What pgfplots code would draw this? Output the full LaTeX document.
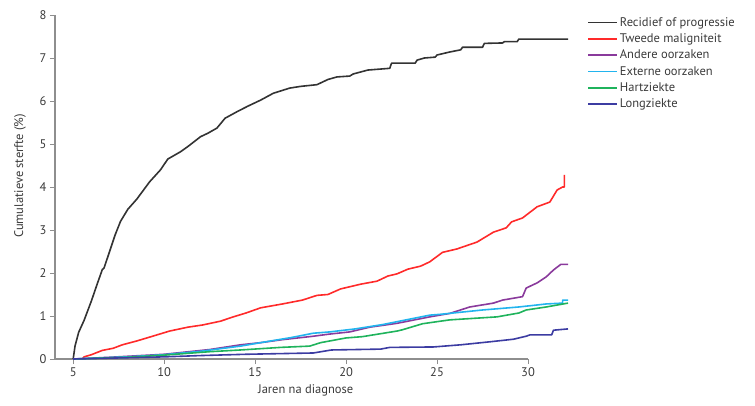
\documentclass[border=0pt]{standalone}
\usepackage{fontspec}
\setmainfont{PT Sans}
\usepackage{pgfplots}
\pgfplotsset{compat=1.18}

\definecolor{cBlack}{HTML}{333333}
\definecolor{cRed}{HTML}{FF2A2A}
\definecolor{cPurple}{HTML}{8A3A9C}
\definecolor{cCyan}{HTML}{22B4EE}
\definecolor{cGreen}{HTML}{1FB35C}
\definecolor{cNavy}{HTML}{3C3CA2}
\definecolor{cAxis}{HTML}{8E8E8E}
\definecolor{cText}{HTML}{3A3A3A}

\begin{document}
\begin{tikzpicture}
\path[use as bounding box] (-55pt,-46pt) rectangle (700pt,359pt);
\begin{axis}[
    scale only axis,
    width=473pt, height=344pt,
    xmin=4, xmax=30, ymin=0, ymax=8,
    clip=false,
    axis x line*=bottom, axis y line*=left,
    axis line style={cAxis, line width=1.2pt, -},
    xtick={5,10,15,20,25,30},
    ytick={0,1,2,3,4,5,6,7,8},
    tick align=outside,
    major tick length=5pt,
    tick style={cAxis, line width=1pt},
    every tick label/.append style={font=\fontsize{12.5}{14}\selectfont, text=cText},
    /pgf/number format/assume math mode=true,
    xlabel={Jaren na diagnose},
    ylabel={Cumulatieve sterfte (\%)},
    label style={font=\fontsize{12.5}{14}\selectfont, text=cText},
    xlabel style={at={(axis description cs:0.53,0)}, anchor=center, yshift=-31pt},
    ylabel style={at={(axis description cs:-0.074,0.532)}, anchor=center},
    legend style={draw=none, fill=none, at={(1.125,1.0)}, anchor=north west,
        inner sep=0pt, row sep=2pt,
        font=\fontsize{12.5}{13.8}\selectfont, text=cText},
    legend cell align=left,
    legend image code/.code={\draw[#1, line width=1.6pt] (0pt,0pt) -- (29pt,0pt);},
    curve/.style={line width=1.6pt, line join=round},
]
\addplot[cBlack, curve] coordinates {
(5,0) (5.1,0.3) (5.3,0.62) (5.6,0.9) (6.0,1.35) (6.3,1.72) (6.6,2.08) (6.7,2.12)
(7.0,2.5) (7.3,2.88) (7.6,3.2) (8.0,3.48) (8.5,3.72) (9.2,4.12) (9.8,4.4)
(10.2,4.65) (10.9,4.82) (11.3,4.94) (12.0,5.17) (12.4,5.25) (12.9,5.37)
(13.35,5.6) (14.0,5.75) (14.6,5.88) (15.3,6.02) (16.0,6.18) (16.9,6.3)
(17.5,6.34) (18.4,6.38) (19.0,6.5) (19.5,6.56) (20.2,6.58) (20.4,6.63)
(21.2,6.72) (22.4,6.76) (22.5,6.88) (23.8,6.88) (23.9,6.95) (24.3,7.0)
(24.9,7.02) (25.0,7.07) (25.7,7.14) (26.3,7.19) (26.4,7.25) (27.5,7.25)
(27.6,7.34) (28.6,7.35) (28.7,7.38) (29.4,7.38) (29.5,7.44) (32.2,7.44)
};
\addplot[cRed, curve] coordinates {
(5.5,0) (5.6,0.05) (6.0,0.1) (6.6,0.2) (7.2,0.25) (7.7,0.33) (8.5,0.42)
(9.6,0.56) (10.3,0.65) (11.3,0.74) (12.1,0.79) (13.1,0.88) (13.8,0.98)
(14.5,1.07) (15.3,1.19) (16.5,1.28) (17.6,1.37) (18.4,1.48) (19.0,1.5)
(19.7,1.63) (20.8,1.74) (21.7,1.81) (22.3,1.93) (22.8,1.98) (23.4,2.09)
(24.1,2.16) (24.6,2.26) (25.3,2.48) (26.1,2.56) (27.2,2.72) (28.1,2.95)
(28.8,3.05) (29.1,3.19) (29.7,3.28) (30.5,3.54) (31.2,3.65) (31.6,3.93)
(31.9,4.0) (32.0,4.0) (32.0,4.28)
};
\addplot[cPurple, curve] coordinates {
(5,0) (7,0.04) (10,0.11) (12.5,0.22) (14.2,0.33) (15.3,0.38) (16.5,0.45)
(18.2,0.53) (19.1,0.58) (20.2,0.63) (21.3,0.74) (22.8,0.83) (24.6,0.98)
(25.7,1.06) (26.8,1.21) (28.1,1.3) (28.6,1.37) (29.7,1.45) (29.9,1.65)
(30.5,1.77) (31.0,1.91) (31.4,2.07) (31.8,2.2) (32.2,2.2)
};
\addplot[cCyan, curve] coordinates {
(5,0) (8,0.05) (10,0.1) (12,0.18) (14.2,0.3) (15.3,0.38) (17,0.5) (18.2,0.6)
(19.1,0.63) (20.5,0.7) (22,0.8) (24.6,1.02) (25.2,1.04) (27.5,1.14)
(29.5,1.21) (31.0,1.28) (31.9,1.3) (31.9,1.37) (32.2,1.37)
};
\addplot[cGreen, curve] coordinates {
(5,0) (8,0.04) (10,0.09) (12.5,0.17) (14.2,0.21) (16.4,0.27) (18.0,0.3)
(18.6,0.38) (20,0.49) (20.9,0.52) (22.8,0.65) (23.1,0.68) (24.2,0.82)
(25.7,0.91) (28.3,0.98) (29.5,1.07) (29.9,1.14) (31.0,1.21) (32.2,1.3)
};
\addplot[cNavy, curve] coordinates {
(5,0) (7,0.02) (10,0.05) (12,0.08) (14.5,0.11) (18.2,0.14) (19.2,0.21)
(21.9,0.23) (22.4,0.27) (24.8,0.28) (26.3,0.33) (27.9,0.4) (29.2,0.46)
(29.9,0.53) (30.1,0.56) (31.3,0.56) (31.4,0.67) (32.2,0.7)
};
\legend{Recidief of progressie, Tweede maligniteit, Andere oorzaken, Externe oorzaken, Hartziekte, Longziekte}
\end{axis}
\end{tikzpicture}
\end{document}
